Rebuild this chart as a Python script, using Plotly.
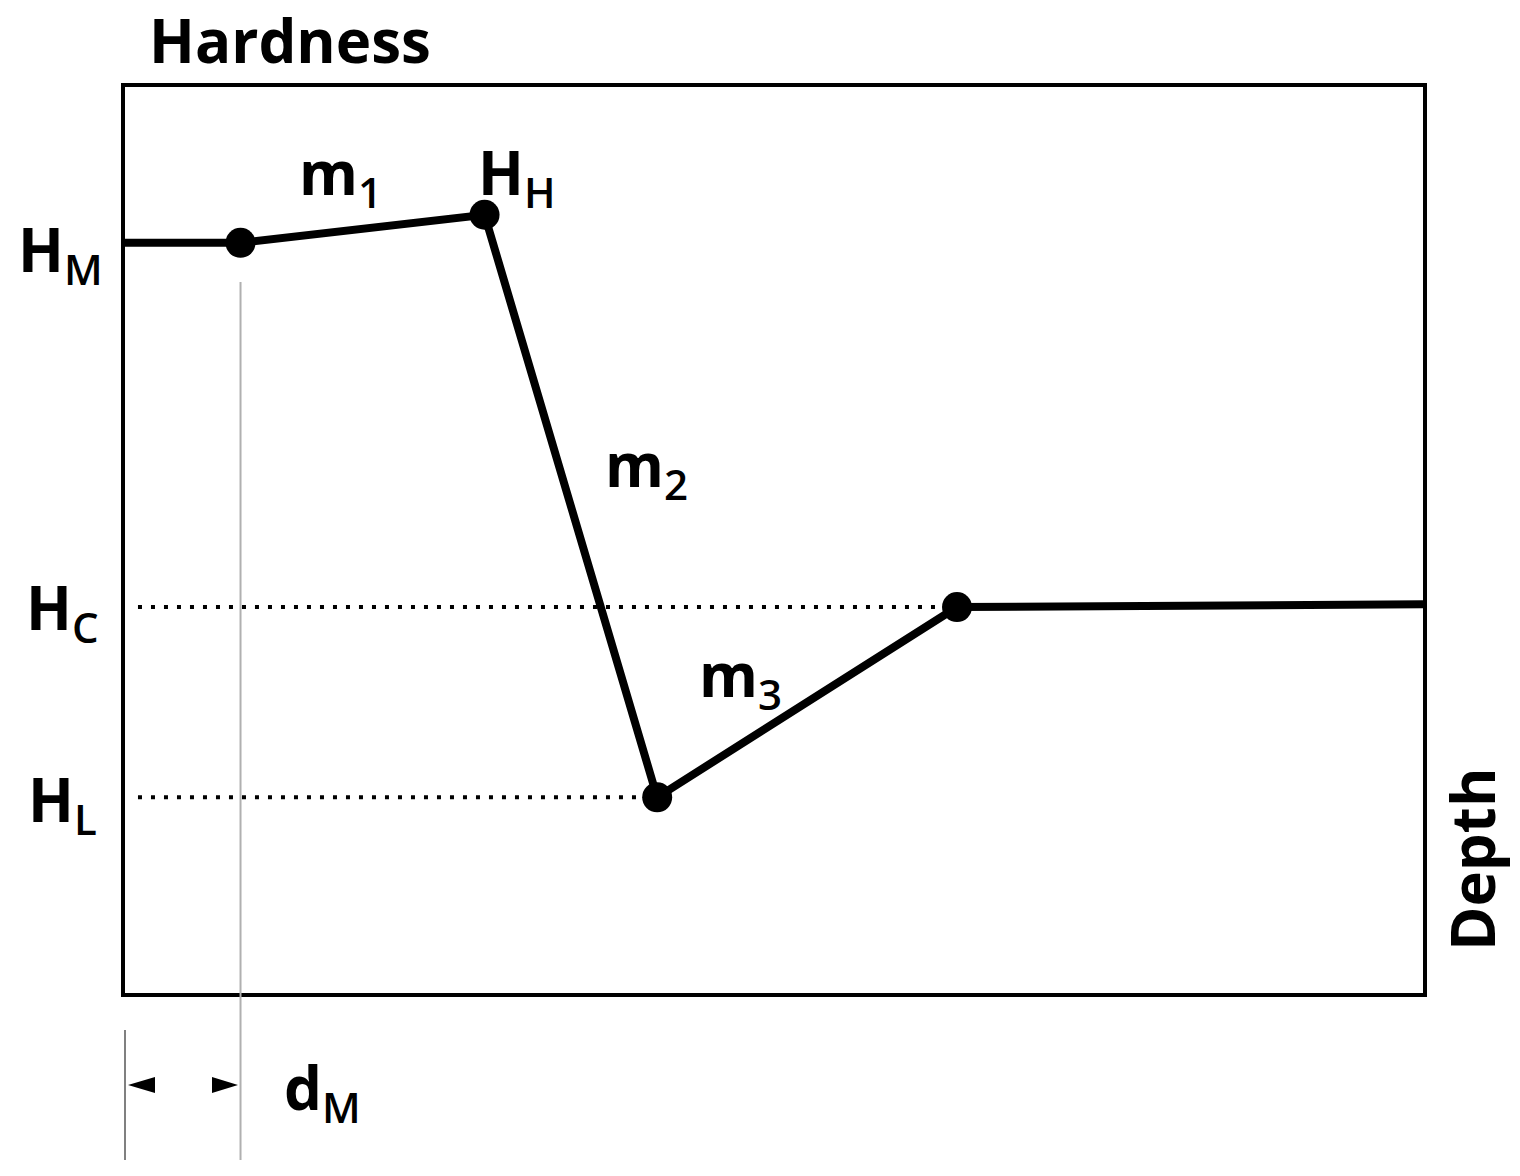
import plotly.graph_objects as go

# ---- data (schematic hardness-depth profile, arbitrary units 0..100) ----
depth = [0.0, 8.9, 27.7, 41.0, 64.1, 100.0]
hardness = [82.8, 82.8, 85.9, 21.6, 42.6, 42.9]
point_idx = [1, 2, 3, 4]          # points with dot markers
dotted_start = 1.0                # where the dotted guide lines start
level_labels = [("H", "M"), ("H", "C"), ("H", "L")]
slope_labels = [("m", "1"), ("m", "2"), ("m", "3")]
peak_label = ("H", "H")
dm_label = ("d", "M")
x_title = "Depth"
y_title = "Hardness"

W, H = 1520, 1176
L, R, T, B = 125, 97, 87, 183
PW, PH = W - L - R, H - T - B
XR = [0, 100]
YR = [0, 100]

def px(xp):   # pixel x -> paper
    return (xp - L) / PW

def py(yp):   # pixel y -> paper
    return (H - B - yp) / PH

FONT = "Open Sans"
FS = 60
BLACK = "#000000"

fig = go.Figure()

# dotted guide lines for H_C and H_L
for i in (4, 3):
    fig.add_trace(go.Scatter(
        x=[dotted_start, depth[i]], y=[hardness[i], hardness[i]],
        mode="lines", line=dict(color=BLACK, width=4, dash="4px,9px"),
        hoverinfo="skip", showlegend=False))

# main profile line
fig.add_trace(go.Scatter(
    x=depth, y=hardness, mode="lines",
    line=dict(color=BLACK, width=8), showlegend=False))

# key points
fig.add_trace(go.Scatter(
    x=[depth[i] for i in point_idx], y=[hardness[i] for i in point_idx],
    mode="markers", marker=dict(color=BLACK, size=30), showlegend=False,
    cliponaxis=False))

shapes = []
# thin vertical line at d_M
shapes.append(dict(type="line", xref="x", yref="paper",
                   x0=depth[1], x1=depth[1], y0=py(1160), y1=py(282),
                   line=dict(color="#b0b0b0", width=2)))
# thin vertical line at depth 0 (below the box)
shapes.append(dict(type="line", xref="paper", yref="paper",
                   x0=0, x1=0, y0=py(1160), y1=py(1030),
                   line=dict(color="#808080", width=2)))

# arrowheads for d_M
def tri(tip_x, base_x, yc, half):
    return ("M {:.5f},{:.5f} L {:.5f},{:.5f} L {:.5f},{:.5f} Z".format(
        px(tip_x), py(yc), px(base_x), py(yc - half), px(base_x), py(yc + half)))

shapes.append(dict(type="path", xref="paper", yref="paper",
                   path=tri(128, 155, 1085, 8), fillcolor=BLACK,
                   line=dict(color=BLACK, width=0)))
shapes.append(dict(type="path", xref="paper", yref="paper",
                   path=tri(238, 212, 1085, 8), fillcolor=BLACK,
                   line=dict(color=BLACK, width=0)))

annotations = []

def lab(text, xp, yp, size=FS, angle=0):
    annotations.append(dict(
        text=text, x=px(xp), y=py(yp), xref="paper", yref="paper",
        xanchor="center", yanchor="middle", showarrow=False, textangle=angle,
        font=dict(family=FONT, size=size, color=BLACK)))

def subtxt(pair):
    main, sub = pair
    return ("<b>" + main + "</b><sub><span style='font-weight:600'>"
            + sub + "</span></sub>")

lab("<b>" + y_title + "</b>", 290, 40)
lab(subtxt(level_labels[0]), 60, 252)
lab(subtxt(level_labels[1]), 62, 610)
lab(subtxt(level_labels[2]), 62, 802)
lab(subtxt(slope_labels[0]), 340, 176)
lab(subtxt(peak_label), 516, 176)
lab(subtxt(slope_labels[1]), 646, 467)
lab(subtxt(slope_labels[2]), 740, 677)
lab(subtxt(dm_label), 322, 1090)
lab("<b>" + x_title + "</b>", 1472, 860, angle=-90)

axis_common = dict(showgrid=False, zeroline=False, showticklabels=False,
                   ticks="", showline=True, mirror=True, linecolor=BLACK,
                   linewidth=4, fixedrange=True)

fig.update_layout(
    width=W, height=H, autosize=False,
    margin=dict(l=L, r=R, t=T, b=B, pad=0),
    paper_bgcolor="white", plot_bgcolor="white",
    xaxis=dict(range=XR, **axis_common),
    yaxis=dict(range=YR, **axis_common),
    shapes=shapes, annotations=annotations, showlegend=False,
)

fig.write_html("out.html", config={"displayModeBar": False},
               post_script="document.body.style.margin='0';")
